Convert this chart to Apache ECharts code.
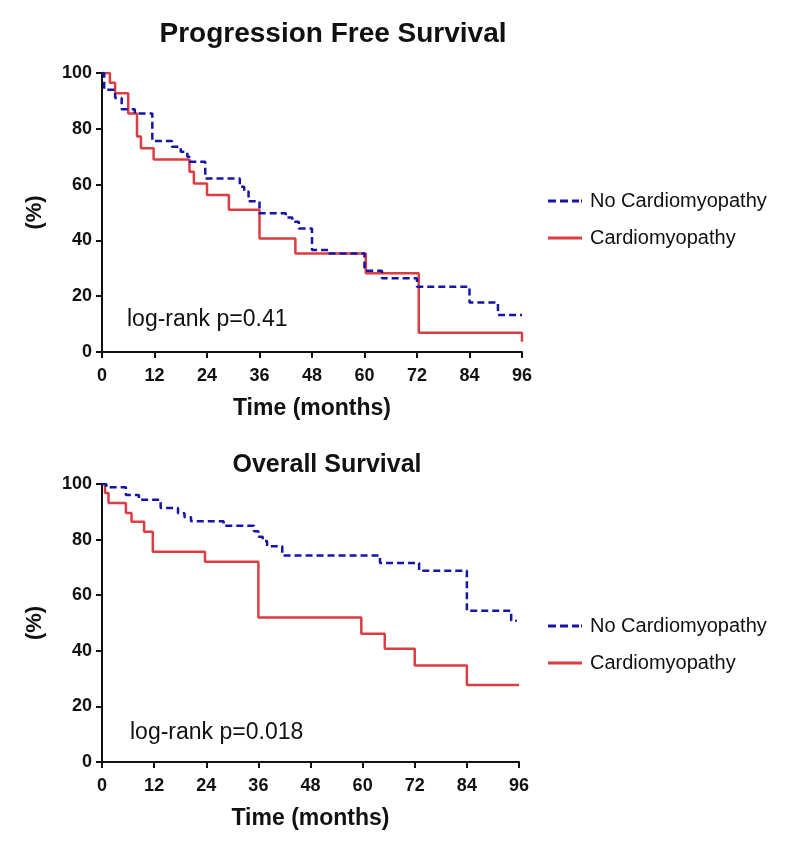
<!DOCTYPE html>
<html>
<head>
<meta charset="utf-8">
<script src="https://cdn.jsdelivr.net/npm/echarts@6/dist/echarts.min.js"></script>
<style>
  html, body { margin: 0; padding: 0; background: #fff; }
  #main { width: 800px; height: 852px; }
</style>
</head>
<body>
<div id="main"></div>
<script>
// Progression free survival (months, %)
const pfsNoCardioTime = [0, 0.5, 3, 4.5, 7.5, 11.5, 16, 18, 19.5, 20, 23.6, 31.5, 32.5, 33.5, 36, 42, 43.5, 45, 48, 52, 60, 64, 72, 84, 90.5, 96];
const pfsNoCardio     = [100, 94, 91, 87, 85.5, 75.6, 73.6, 71.8, 70, 68.2, 62.2, 59.2, 57.5, 54, 49.7, 48.2, 46.7, 44.3, 36.6, 35.3, 29.1, 26.4, 23.4, 17.7, 13.3, 13.3];
const pfsCardioTime   = [0, 1.8, 3, 6, 8, 8.9, 11.8, 20, 21, 24, 29, 36, 44.2, 60.3, 72.4, 96];
const pfsCardio       = [100, 96.5, 92.7, 85.5, 77.2, 73, 69, 64.6, 60.4, 56.3, 51, 40.7, 35.3, 28.2, 6.9, 3.7];

// Overall survival (months, %)
const osNoCardioTime = [0, 1, 5.5, 8.5, 13.5, 17.5, 19, 20.5, 28, 35, 36, 37, 38, 41.5, 64, 73, 84, 94.2, 95.5];
const osNoCardio     = [100, 98.8, 96, 94.3, 91.4, 89.5, 88, 86.6, 85, 83, 81, 79.5, 77.6, 74.3, 71.6, 68.8, 54.4, 50.8, 50.8];
const osCardioTime   = [0, 0.7, 1.5, 5.5, 6.8, 9.7, 11.7, 23.7, 36, 59.7, 65.1, 72, 84, 96];
const osCardio       = [100, 96.8, 93.2, 89.6, 86.4, 82.8, 75.6, 72, 52, 46.1, 40.7, 34.7, 27.7, 27.7];

const seriesNames = ['No Cardiomyopathy', 'Cardiomyopathy'];
const xTicks = [0, 12, 24, 36, 48, 60, 72, 84, 96];

const pair = (t, v) => t.map((x, i) => [x, v[i]]);

const FONT = '"Liberation Sans", Arial, sans-serif';
const BLUE = '#1414a8';
const RED = '#dc3d40';

// legend keys drawn as short line samples (dashed / solid)
const dashIcon = 'path://M0,0h8v3h-8z M12,0h8v3h-8z M24,0h7v3h-7z M33,0h1v3h-1z';
const solidIcon = 'path://M0,0h34v3h-34z';

const xAxisBase = (gridIndex) => ({
  type: 'value', gridIndex: gridIndex, min: 0, max: 96, interval: 12,
  name: 'Time (months)', nameLocation: 'middle', nameGap: 45,
  nameTextStyle: { fontFamily: FONT, fontSize: 23, fontWeight: 'bold', color: '#111' },
  axisLine: { onZero: false, lineStyle: { color: '#111', width: 2 } },
  axisTick: { inside: false, length: 6, lineStyle: { color: '#111', width: 2 } },
  axisLabel: { fontFamily: FONT, fontSize: 18, fontWeight: 'bold', color: '#111', margin: 15,
    formatter: (v) => xTicks.includes(v) ? String(v) : '' },
  splitLine: { show: false }
});

const yAxisBase = (gridIndex) => ({
  type: 'value', gridIndex: gridIndex, min: 0, max: 100, interval: 20,
  name: '(%)', nameLocation: 'middle', nameGap: 56,
  nameTextStyle: { fontFamily: FONT, fontSize: 22, fontWeight: 'bold', color: '#111' },
  axisLine: { show: true, onZero: false, lineStyle: { color: '#111', width: 2 } },
  axisTick: { show: true, inside: false, length: 6, lineStyle: { color: '#111', width: 2 } },
  axisLabel: { fontFamily: FONT, fontSize: 18, fontWeight: 'bold', color: '#111', margin: 10 },
  splitLine: { show: false }
});

const kmLine = (name, data, idx, dashed) => ({
  name: name, type: 'line', step: 'end', xAxisIndex: idx, yAxisIndex: idx,
  data: data, symbol: 'none', showSymbol: false, z: dashed ? 3 : 2,
  lineStyle: { color: dashed ? BLUE : RED, width: 2.5, type: dashed ? [7, 4] : 'solid' },
  itemStyle: { color: dashed ? BLUE : RED }
});

const legendBase = (top) => ({
  data: [
    { name: seriesNames[0], icon: dashIcon },
    { name: seriesNames[1], icon: solidIcon }
  ],
  orient: 'vertical', left: 543, top: top,
  itemWidth: 34, itemHeight: 3, itemGap: 15,
  textStyle: { fontFamily: FONT, fontSize: 20, color: '#111', lineHeight: 22, padding: [0, 0, 0, 3] },
  selectedMode: false
});

const chart = echarts.init(document.getElementById('main'));
chart.setOption({
  backgroundColor: '#fff',
  animation: false,
  title: [
    { text: 'Progression Free Survival', left: 328, top: 15, textAlign: 'center',
      textStyle: { fontFamily: FONT, fontSize: 28, fontWeight: 'bold', color: '#111' } },
    { text: 'Overall Survival', left: 322, top: 448, textAlign: 'center',
      textStyle: { fontFamily: FONT, fontSize: 25, fontWeight: 'bold', color: '#111' } }
  ],
  legend: [legendBase(185), legendBase(610)],
  grid: [
    { left: 102, top: 73, width: 420, height: 279 },
    { left: 102, top: 484, width: 417, height: 278 }
  ],
  xAxis: [xAxisBase(0), xAxisBase(1)],
  yAxis: [yAxisBase(0), yAxisBase(1)],
  graphic: [
    { type: 'text', left: 127, top: 308,
      style: { text: 'log-rank p=0.41', fontFamily: FONT, fontSize: 23, fill: '#111' } },
    { type: 'text', left: 130, top: 721,
      style: { text: 'log-rank p=0.018', fontFamily: FONT, fontSize: 23, fill: '#111' } }
  ],
  series: [
    kmLine(seriesNames[0], pair(pfsNoCardioTime, pfsNoCardio), 0, true),
    kmLine(seriesNames[1], pair(pfsCardioTime, pfsCardio), 0, false),
    kmLine(seriesNames[0], pair(osNoCardioTime, osNoCardio), 1, true),
    kmLine(seriesNames[1], pair(osCardioTime, osCardio), 1, false)
  ]
});
</script>
</body>
</html>
